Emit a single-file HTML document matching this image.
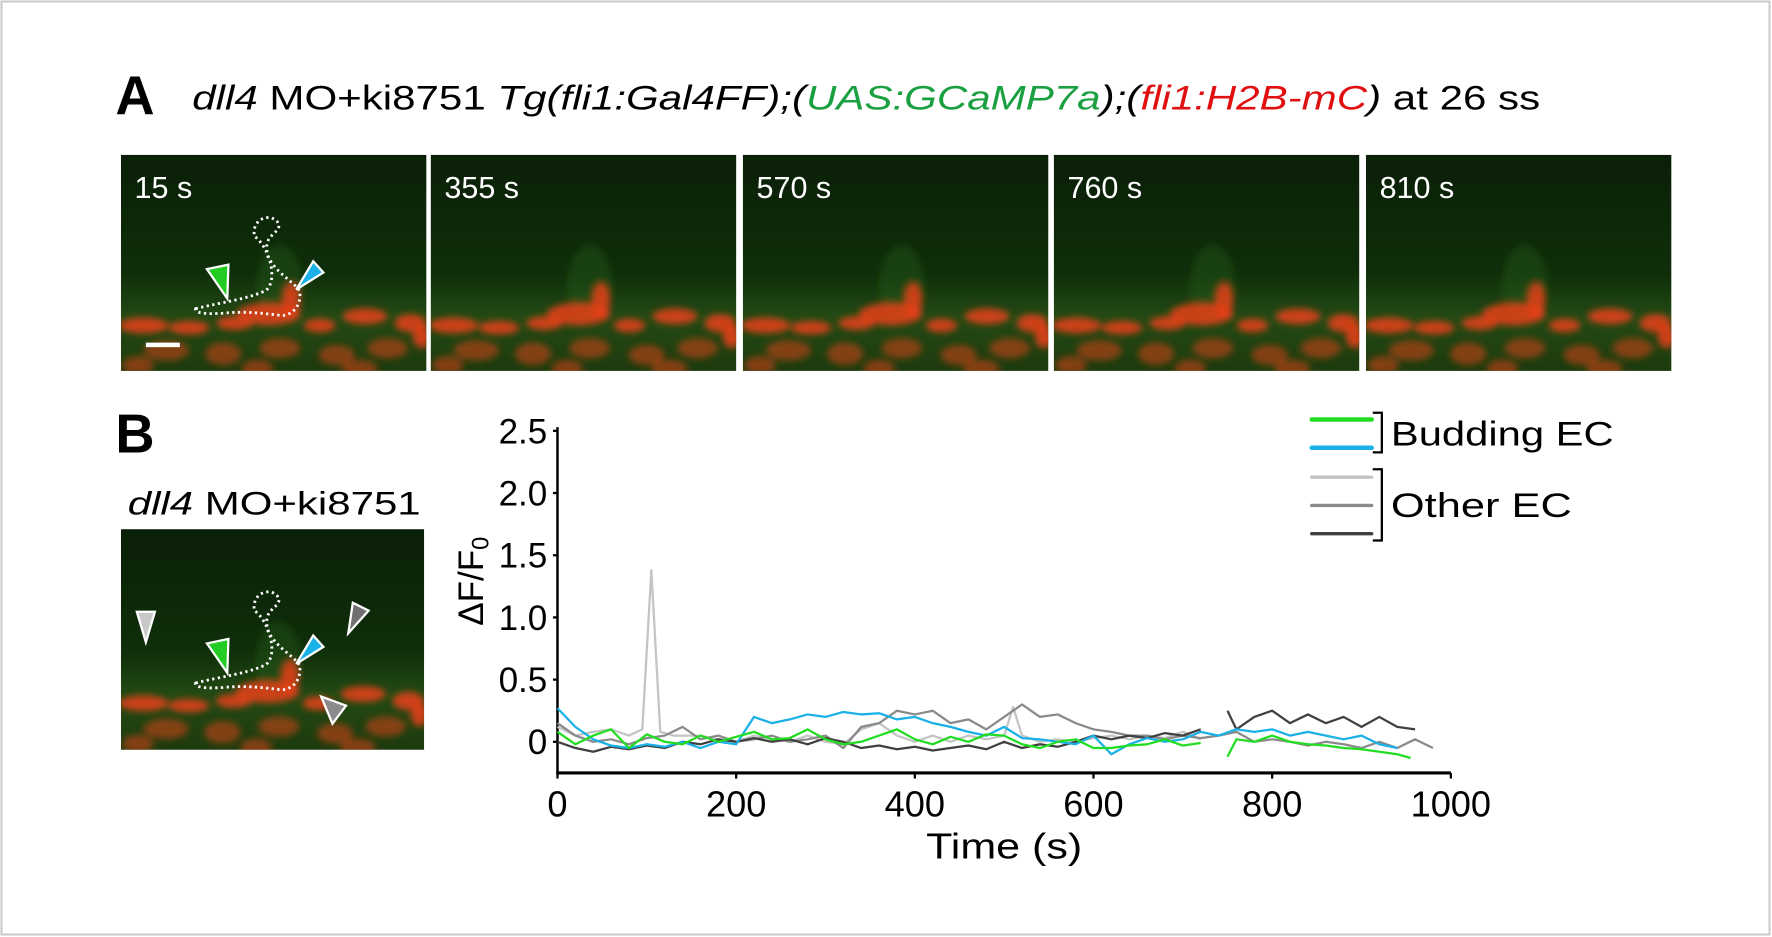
<!DOCTYPE html>
<html><head><meta charset="utf-8"><style>
html,body{margin:0;padding:0;background:#fff}
svg{display:block;font-family:"Liberation Sans",Arial,sans-serif}
</style></head><body>
<svg id="fig" width="1772" height="937" viewBox="0 0 1772 937" xmlns="http://www.w3.org/2000/svg">
<defs>
<linearGradient id="bg" x1="0" y1="0" x2="0" y2="1">
<stop offset="0" stop-color="#0a1f07"/><stop offset="0.55" stop-color="#0f2e0a"/><stop offset="0.75" stop-color="#234a14"/><stop offset="1" stop-color="#1d3a0e"/>
</linearGradient>
<filter id="blur" x="-20%" y="-20%" width="140%" height="140%"><feGaussianBlur stdDeviation="3"/></filter>
<clipPath id="clipA"><rect x="0" y="0" width="270" height="191"/></clipPath>
<clipPath id="clipB"><rect x="0" y="0" width="268" height="195"/></clipPath>
</defs>
<rect x="1.5" y="1.5" width="1768" height="933" fill="#fff" stroke="#c8c8c8" stroke-width="2"/>
<g transform="scale(1.1308)">
<text x="102" y="101" font-size="48" font-weight="bold">A</text>
<text x="170" y="97" font-size="30" textLength="1192" lengthAdjust="spacingAndGlyphs"><tspan font-style="italic">dll4</tspan> MO+ki8751 <tspan font-style="italic">Tg(fli1:Gal4FF);(</tspan><tspan font-style="italic" fill="#1aa040">UAS:GCaMP7a</tspan><tspan font-style="italic">);(</tspan><tspan font-style="italic" fill="#e01010">fli1:H2B-mC</tspan><tspan font-style="italic">)</tspan> at 26 ss</text>
<g id="panelsA"></g>
<text x="102" y="400" font-size="48" font-weight="bold">B</text>
<text x="113" y="455" font-size="29" textLength="259" lengthAdjust="spacingAndGlyphs"><tspan font-style="italic">dll4</tspan> MO+ki8751</text>
<g id="panelB"></g>
<g id="chart"></g>
<g id="legend">
<line x1="1160" y1="371" x2="1213" y2="371" stroke="#22dd22" stroke-width="4" stroke-linecap="round"/>
<line x1="1160" y1="396" x2="1213" y2="396" stroke="#1ab0e8" stroke-width="4" stroke-linecap="round"/>
<line x1="1160" y1="422" x2="1213" y2="422" stroke="#c4c4c4" stroke-width="3" stroke-linecap="round"/>
<line x1="1160" y1="447" x2="1213" y2="447" stroke="#8a8a8a" stroke-width="3" stroke-linecap="round"/>
<line x1="1160" y1="472" x2="1213" y2="472" stroke="#404040" stroke-width="3" stroke-linecap="round"/>
<path d="M1214 365 H1222 V400 H1214" fill="none" stroke="#000" stroke-width="2"/>
<path d="M1214 415 H1222 V478 H1214" fill="none" stroke="#000" stroke-width="2"/>
<text x="1230" y="394" font-size="30" textLength="197" lengthAdjust="spacingAndGlyphs">Budding EC</text>
<text x="1230" y="457" font-size="30" textLength="160" lengthAdjust="spacingAndGlyphs">Other EC</text>
</g>
</g>
</svg>
<script>
// ---- chart data ----
const xTicks = [0, 200, 400, 600, 800, 1000];
const yTicks = [0, 0.5, 1.0, 1.5, 2.0, 2.5];
const yTickLabels = ["0", "0.5", "1.0", "1.5", "2.0", "2.5"];
const blueT = [0,20,40,60,80,100,120,140,160,180,200,220,240,260,280,300,320,340,360,380,400,420,440,460,480,500,520,540,560,580,600,620,640,660,680,700,720,740,760,780,800,820,840,860,880,900,920,940];
const blueV = [0.27,0.12,0.02,-0.03,-0.05,-0.02,-0.04,0.0,-0.05,0.0,-0.02,0.2,0.15,0.18,0.22,0.2,0.24,0.22,0.23,0.18,0.2,0.15,0.12,0.08,0.05,0.12,0.03,0.02,0.0,-0.02,0.05,-0.1,-0.02,0.03,0.0,0.02,0.08,0.05,0.1,0.08,0.1,0.05,0.08,0.05,0.02,0.05,-0.02,-0.05];
const greenT = [0,20,40,60,80,100,120,140,160,180,200,220,240,260,280,300,320,340,360,380,400,420,440,460,480,500,520,540,560,580,600,620,640,660,680,700,720,735,750,760,780,800,820,840,860,880,900,920,940,955];
const greenV = [0.08,-0.02,0.05,0.1,-0.05,0.06,0.0,-0.02,0.05,0.0,0.04,0.08,0.02,0.03,0.1,0.02,-0.02,0.0,0.05,0.1,0.02,-0.02,0.04,0.0,0.06,0.05,-0.02,-0.05,0.0,0.02,-0.05,-0.05,-0.03,-0.02,0.02,-0.03,-0.01,null,-0.12,0.02,0.0,0.05,0.0,-0.02,-0.03,-0.05,-0.06,-0.08,-0.1,-0.13];
const lightT = [0,20,40,60,80,95,105,115,130,160,180,200,220,240,260,280,300,320,340,360,380,400,420,440,460,480,500,510,520,540,560,580,600,620,640,660,680,700,720];
const lightV = [0.12,0.05,0.08,0.1,0.05,0.1,1.38,0.08,0.05,0.05,0.02,0.0,0.05,0.02,0.0,0.05,0.0,-0.02,0.1,0.15,0.05,0.0,0.05,0.0,0.05,0.02,0.05,0.28,0.05,0.0,0.02,0.0,0.03,0.05,0.02,0.05,0.03,0.08,0.02];
const midT = [0,20,40,60,80,100,120,140,160,180,200,220,240,260,280,300,320,340,360,380,400,420,440,460,480,500,520,540,560,580,600,620,640,660,680,700,720,740,760,780,800,820,840,860,880,900,920,940,960,980];
const midV = [0.15,0.05,0.0,0.02,-0.02,0.03,0.05,0.12,0.02,0.05,0.0,0.02,0.05,0.0,0.02,0.05,-0.05,0.12,0.15,0.25,0.22,0.25,0.15,0.18,0.1,0.2,0.3,0.2,0.22,0.15,0.1,0.08,0.05,0.05,0.02,0.05,0.03,0.05,0.08,0.0,0.02,0.0,-0.03,0.0,-0.02,-0.05,0.0,-0.05,0.02,-0.05];
const darkT = [0,20,40,60,80,100,120,140,160,180,200,220,240,260,280,300,320,340,360,380,400,420,440,460,480,500,520,540,560,580,600,620,640,660,680,700,720,735,750,760,780,800,820,840,860,880,900,920,940,960];
const darkV = [0.0,-0.05,-0.08,-0.04,-0.06,-0.03,-0.05,0.0,-0.02,0.02,0.0,0.03,0.0,0.02,-0.02,0.03,0.0,-0.05,-0.03,-0.06,-0.04,-0.07,-0.05,-0.03,-0.06,0.0,-0.05,-0.02,-0.04,0.0,0.05,0.02,0.05,0.03,0.07,0.05,0.1,null,0.25,0.1,0.2,0.25,0.15,0.22,0.15,0.2,0.12,0.2,0.12,0.1];

const NS = "http://www.w3.org/2000/svg";
function mk(tag, attrs, parent){const e=document.createElementNS(NS,tag);for(const k in attrs)e.setAttribute(k,attrs[k]);parent.appendChild(e);return e;}
const X0=493, X1=1283, Y0=656, PER=110;
function xs(t){return X0+(t/1000)*(X1-X0);}
function ys(v){return Y0-v*PER;}

const chart=document.getElementById('chart');
const yAxis=mk('line',{x1:X0,y1:ys(2.53),x2:X0,y2:ys(-0.26),stroke:'#000','stroke-width':2.2},chart);


const xAxis=mk('line',{x1:X0-1,y1:ys(-0.25),x2:X1,y2:ys(-0.25),stroke:'#000','stroke-width':2.8},chart);


yTicks.forEach((v,i)=>{
  const tk=mk('line',{x1:X0-4,y1:ys(v),x2:X0,y2:ys(v),stroke:'#000','stroke-width':2},chart);
  
  
  const tx=mk('text',{x:X0-9,y:ys(v)+11,'font-size':31,'text-anchor':'end'},chart);
  tx.textContent=yTickLabels[i];
  
  
});
xTicks.forEach(t=>{
  const tk=mk('line',{x1:xs(t),y1:ys(-0.25),x2:xs(t),y2:ys(-0.25)+5,stroke:'#000','stroke-width':2},chart);
  
  
  const tx=mk('text',{x:xs(t),y:722,'font-size':32,'text-anchor':'middle'},chart);
  tx.textContent=String(t);
  
  
});
const xt=mk('text',{x:888,y:759,'font-size':32,'text-anchor':'middle',textLength:138,lengthAdjust:'spacingAndGlyphs'},chart);
xt.textContent='Time (s)';


const yt=mk('text',{x:0,y:0,'font-size':31,'text-anchor':'middle',transform:'translate(427,514) rotate(-90)'},chart);
yt.innerHTML='ΔF/F<tspan font-size="21" dy="5">0</tspan>';



function series(T,V,color,name){
  let d='',pen=false;
  for(let i=0;i<T.length;i++){
    if(V[i]===null){pen=false;continue;}
    d+=(pen?'L':'M')+xs(T[i]).toFixed(1)+' '+ys(V[i]).toFixed(1)+' ';pen=true;
  }
  const p=mk('path',{d:d,fill:'none',stroke:color,'stroke-width':2,'stroke-linejoin':'round'},chart);
  
  
}
series(lightT,lightV,'#c4c4c4','series-other-ec-light');
series(midT,midV,'#8a8a8a','series-other-ec-mid');
series(darkT,darkV,'#404040','series-other-ec-dark');
series(blueT,blueV,'#1ab0e8','series-budding-ec-blue');
series(greenT,greenV,'#22dd22','series-budding-ec-green');

// ---- microscopy panels (decorative) ----
const blobs=[[20,150,22,7],[60,152,18,6],[100,148,16,6],[130,140,28,10],[150,128,8,16],[175,150,14,6],[215,142,20,7],[255,148,14,8],[40,172,20,9],[90,175,16,10],[140,170,18,9],[190,176,16,9],[235,170,18,9],[15,185,14,8],[120,188,14,8],[210,188,16,8],[265,160,8,10]];
function panel(parent,x,y,w,h,label,name,outline,clip){
  const g=mk('g',{transform:`translate(${x},${y})`},parent);
  
  
  mk('rect',{x:0,y:0,width:w,height:h,fill:'url(#bg)'},g);
  const cg=mk('g',{'clip-path':`url(#${clip})`},g);
  const bl=mk('g',{filter:'url(#blur)'},cg);
  mk('ellipse',{cx:w*0.52,cy:h*0.6,rx:20,ry:35,fill:'#2a6a1a',opacity:0.3},bl);
  blobs.forEach(b=>mk('ellipse',{cx:b[0]*w/269,cy:b[1]*h/190,rx:b[2],ry:b[3],fill:'#e8401a',opacity:b[1]>165?0.5:0.85},bl));
  if(label){
    const t=mk('text',{x:12,y:38,'font-size':27,fill:'#fff'},g);
    t.textContent=label;
    
    
  }
  if(outline){
    mk('path',{d:'M66 136 C90 130 110 128 128 120 C140 110 130 80 118 72 C115 55 135 50 140 62 C138 72 125 70 130 90 C138 105 150 110 158 120 C160 135 150 142 142 142 C125 140 110 138 90 140 C75 141 65 140 66 136Z',fill:'none',stroke:'#fff','stroke-width':2.5,'stroke-dasharray':'2 3'},g);
    mk('polygon',{points:'76,101 95,97 94,127',fill:'#22cc22',stroke:'#fff','stroke-width':2},g);
    mk('polygon',{points:'170,94 179,104 155,119',fill:'#1ab0e8',stroke:'#fff','stroke-width':2},g);
  }
  return g;
}
const pa=document.getElementById('panelsA');
const px=[107,381,657,932,1208],labs=['15 s','355 s','570 s','760 s','810 s'];
px.forEach((x,i)=>{
  const g=panel(pa,x,137,270,191,labs[i],'image-panel-'+labs[i].replace(' ',''),i===0,'clipA');
  if(i===0){const s=mk('rect',{x:22,y:166,width:30,height:4,fill:'#fff'},g);}
});
const pb=document.getElementById('panelB');
const gb=panel(pb,107,468,268,195,null,'image-panel-b',true,'clipB');
[[22,100,'#c8c8c8',0],[205,92,'#707070',1],[185,160,'#8a8a8a',2]].forEach(a=>{
  let pts=a[3]===2?`${a[0]-8},${a[1]-12} ${a[0]+14},${a[1]-4} ${a[0]+2},${a[1]+12}`:`${a[0]-8},${a[1]-27} ${a[0]+8},${a[1]-27} ${a[0]},${a[1]}`;
  if(a[3]===1)pts=`${a[0]},${a[1]-27} ${a[0]+14},${a[1]-20} ${a[0]-4},${a[1]}`;
  const p=mk('polygon',{points:pts,fill:a[2],stroke:'#fff','stroke-width':2},gb);
  
  
});
</script>
</body></html>
